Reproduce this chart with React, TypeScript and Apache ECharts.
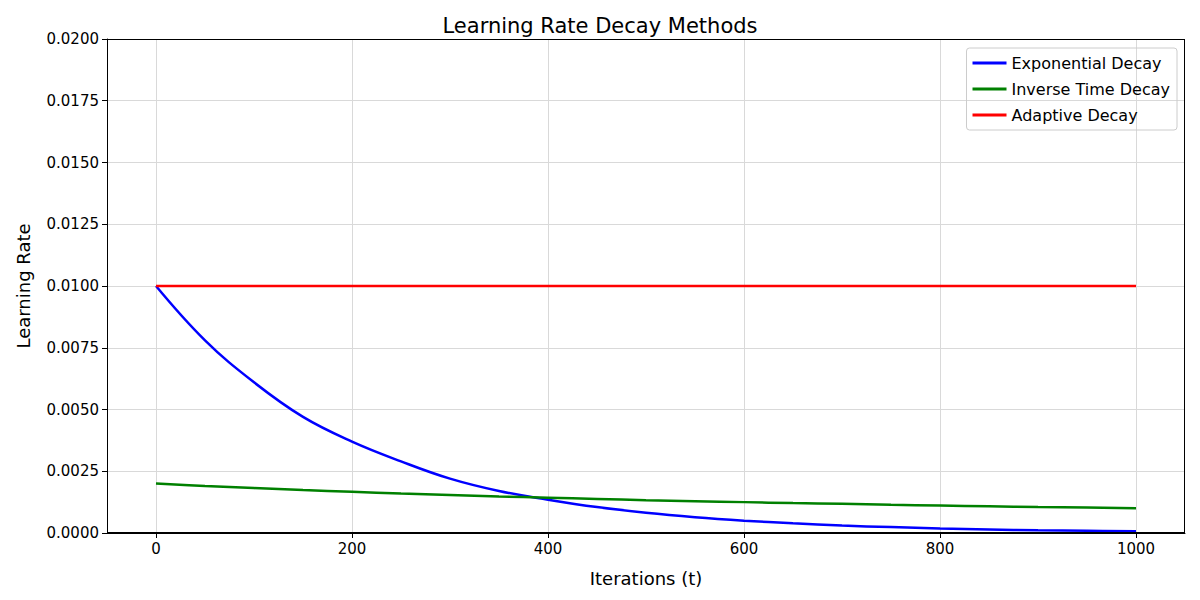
import { useEffect, useRef } from 'react';
import * as echarts from 'echarts';

const iterations = [0, 50, 100, 150, 200, 250, 300, 350, 400, 450, 500, 550, 600, 650, 700, 750, 800, 850, 900, 950, 1000];
const exponential = [0.01, 0.0078, 0.0061, 0.0047, 0.0037, 0.0029, 0.0022, 0.0017, 0.00135, 0.00105, 0.00082, 0.00064, 0.0005, 0.00039, 0.0003, 0.00024, 0.00018, 0.00014, 0.00011, 0.00009, 0.00007];
const inverseTime = [0.002, 0.0019, 0.00182, 0.00174, 0.00167, 0.0016, 0.00154, 0.00148, 0.00143, 0.00138, 0.00133, 0.00129, 0.00125, 0.00121, 0.00118, 0.00114, 0.00111, 0.00108, 0.00105, 0.00103, 0.001];
const adaptive = iterations.map(() => 0.01);
const xTicks = [0, 200, 400, 600, 800, 1000];

const font = 'DejaVu Sans';

export default function App() {
  const chartRef = useRef<HTMLDivElement>(null);

  useEffect(() => {
    if (!chartRef.current) return;
    const chart = echarts.init(chartRef.current, null, { renderer: 'svg' });
    const pair = (ys: number[]) => iterations.map((x, i) => [x, ys[i]]);
    const line = (name: string, color: string, ys: number[]) => ({
      name, type: 'line', data: pair(ys), showSymbol: false, smooth: 0.4,
      lineStyle: { color, width: 2.5 }, itemStyle: { color },
    });
    chart.setOption({
      animation: false,
      textStyle: { fontFamily: font },
      title: { text: 'Learning Rate Decay Methods', left: 'center', top: 10, textStyle: { fontFamily: font, fontSize: 21, fontWeight: 'normal', color: '#000' } },
      legend: {
        right: 23, top: 48, orient: 'vertical', itemWidth: 34, itemHeight: 3, itemGap: 10,
        padding: [7, 7, 7, 6], borderColor: '#ccc', borderWidth: 1, borderRadius: 3,
        textStyle: { fontFamily: font, fontSize: 16, color: '#000' },
        icon: 'rect',
      },
      grid: { left: 107, right: 15, top: 39, bottom: 67 },
      xAxis: {
        type: 'value', min: -50, max: 1050,
        name: 'Iterations (t)', nameLocation: 'middle', nameGap: 36,
        nameTextStyle: { fontFamily: font, fontSize: 18, color: '#000' },
        axisLine: { onZero: false, lineStyle: { color: '#000' } },
        axisTick: { show: true, customValues: xTicks, length: 5, lineStyle: { color: '#000' } },
        axisLabel: { customValues: xTicks, formatter: (v: number) => String(v), fontSize: 15, color: '#000', fontFamily: font },
        splitLine: { show: true, lineStyle: { color: '#d9d9d9' } },
      },
      yAxis: {
        type: 'value', min: 0, max: 0.02, interval: 0.0025,
        name: 'Learning Rate', nameLocation: 'middle', nameGap: 75,
        nameTextStyle: { fontFamily: font, fontSize: 18, color: '#000' },
        axisLine: { show: true, onZero: false, lineStyle: { color: '#000' } },
        axisTick: { show: true, length: 5, lineStyle: { color: '#000' } },
        axisLabel: { formatter: (v: number) => v.toFixed(4), fontSize: 15, color: '#000', fontFamily: font },
        splitLine: { show: true, lineStyle: { color: '#d9d9d9' } },
      },
      series: [
        line('Exponential Decay', '#0000ff', exponential),
        line('Inverse Time Decay', '#008000', inverseTime),
        line('Adaptive Decay', '#ff0000', adaptive),
      ],
    });
    return () => chart.dispose();
  }, []);

  return (
    <div style={{ position: 'fixed', inset: 0, background: '#fff' }}>
      <div ref={chartRef} style={{ width: 1200, height: 600 }} />
      <div style={{ position: 'absolute', left: 107, top: 39, width: 1078, height: 494, border: '1px solid #000', boxSizing: 'border-box', pointerEvents: 'none' }} />
    </div>
  );
}
